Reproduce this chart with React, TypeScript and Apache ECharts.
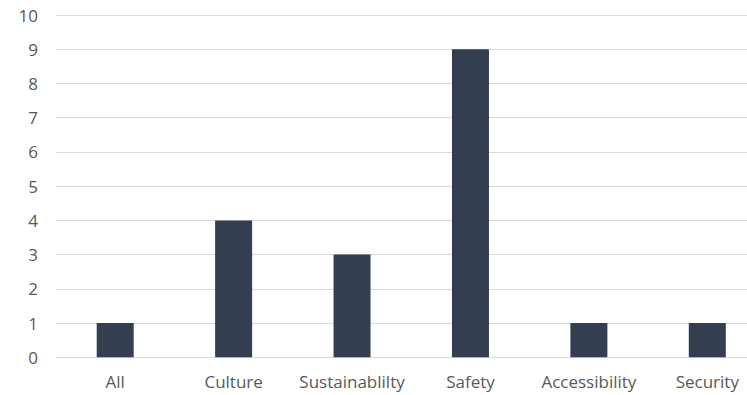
import React, { useEffect, useRef } from "react";
import * as echarts from "echarts";

const categories = ["All", "Culture", "Sustainablilty", "Safety", "Accessibility", "Security"];
const values = [1, 4, 3, 9, 1, 1];
const yMin = 0;
const yMax = 10;
const yInterval = 1;

export default function App() {
  const ref = useRef<HTMLDivElement>(null);
  useEffect(() => {
    document.body.style.margin = "0";
    const chart = echarts.init(ref.current!, undefined, { renderer: "svg" });
    const font = "'Open Sans', sans-serif";
    chart.setOption({
      animation: false,
      backgroundColor: "#ffffff",
      grid: { left: 56, right: -19.5, top: 15, bottom: 37.7, containLabel: false, outerBoundsMode: "none" },
      xAxis: {
        type: "category",
        data: categories,
        axisLine: { show: true, lineStyle: { color: "#d9d9d9", width: 1 } },
        axisTick: { show: false },
        axisLabel: { color: "#595959", fontFamily: font, fontSize: 17, margin: 16, interval: 0 },
        splitLine: { show: false },
      },
      yAxis: {
        type: "value",
        min: yMin,
        max: yMax,
        interval: yInterval,
        axisLine: { show: false },
        axisTick: { show: false },
        axisLabel: { color: "#595959", fontFamily: font, fontSize: 17, margin: 18 },
        splitLine: { show: true, lineStyle: { color: "#d9d9d9", width: 1 } },
      },
      series: [
        {
          type: "bar",
          data: values,
          barWidth: 37,
          itemStyle: { color: "#333f50" },
        },
      ],
    });
    return () => chart.dispose();
  }, []);
  return <div ref={ref} style={{ width: 747, height: 395 }} />;
}
